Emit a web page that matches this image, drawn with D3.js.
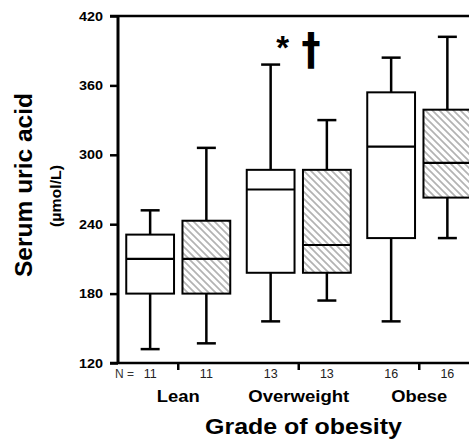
<!DOCTYPE html>
<html>
<head>
<meta charset="utf-8">
<script src="https://cdn.jsdelivr.net/npm/d3@7"></script>
<style>
  body { margin: 0; background: #fff; }
  svg { display: block; font-family: Arial, "Liberation Sans", sans-serif; }
</style>
</head>
<body>
<svg></svg>
<script>
///////////////////////////////////////////
// Data (umol/L)
var groups = ["Lean", "Overweight", "Obese"];
var series = ["open", "hatched"];
var counts = [[11, 11], [13, 13], [16, 16]];

// open boxes
var openMin = [132, 156, 156],
    openQ1  = [180, 198, 228],
    openMed = [210, 270, 307],
    openQ3  = [231, 287, 354],
    openMax = [252, 378, 384];

// hatched boxes
var hatchMin = [137, 174, 228],
    hatchQ1  = [180, 198, 263],
    hatchMed = [210, 222, 293],
    hatchQ3  = [243, 287, 339],
    hatchMax = [306, 330, 402];

var yTicks = [120, 180, 240, 300, 360, 420];

///////////////////////////////////////////
// Layout
var svgWidth = 469, svgHeight = 442;
var svg = d3.select("svg").attr("width", svgWidth).attr("height", svgHeight);

var y = d3.scaleLinear().domain([120, 420]).range([363, 16]);
var x = d3.scaleBand().domain(groups).range([118, 479.5]);
var xs = d3.scaleBand().domain(series).range([-52, 52]).paddingInner(0.15).paddingOuter(0);

var boxes = [];
groups.forEach(function(g, i) {
  boxes.push({g: g, s: "open", n: counts[i][0], min: openMin[i], q1: openQ1[i], med: openMed[i], q3: openQ3[i], max: openMax[i]});
  boxes.push({g: g, s: "hatched", n: counts[i][1], min: hatchMin[i], q1: hatchQ1[i], med: hatchMed[i], q3: hatchQ3[i], max: hatchMax[i]});
});

// text widths of the original (wider face than Arial)
var groupLabelLen = {"Lean": 43, "Overweight": 101, "Obese": 56};

// hatch pattern
var defs = svg.append("defs");
var pat = defs.append("pattern").attr("id", "hatch")
  .attr("patternUnits", "userSpaceOnUse").attr("width", 7).attr("height", 7);
pat.append("rect").attr("width", 7).attr("height", 7).attr("fill", "#fff");
pat.append("path")
  .attr("d", "M-1,-1L8,8M-1,6L1,8M6,-1L8,1")
  .attr("stroke", "#b3b3b3").attr("stroke-width", 1.7);

///////////////////////////////////////////
// Axes
var yAxis = svg.append("g").attr("transform", "translate(118,0)")
  .call(d3.axisLeft(y).tickValues(yTicks).tickSize(8).tickPadding(7).tickFormat(d3.format("d")));
yAxis.select(".domain").remove();
yAxis.selectAll("line").attr("stroke", "#000").attr("stroke-width", 2.5);
yAxis.selectAll("text").attr("font-size", 13).attr("font-weight", "bold").attr("fill", "#000")
  .attr("textLength", 24).attr("lengthAdjust", "spacingAndGlyphs");

svg.append("line").attr("x1", 118).attr("x2", 118).attr("y1", y(420) - 1).attr("y2", y(120) + 1)
  .attr("stroke", "#000").attr("stroke-width", 3);
svg.append("line").attr("x1", 110).attr("x2", svgWidth).attr("y1", y(420)).attr("y2", y(420))
  .attr("stroke", "#000").attr("stroke-width", 2.5);
svg.append("line").attr("x1", 110).attr("x2", svgWidth).attr("y1", y(120)).attr("y2", y(120))
  .attr("stroke", "#000").attr("stroke-width", 2.5);

// ticks between the paired boxes
svg.selectAll(".xtick").data(groups).enter().append("line")
  .attr("x1", function(d) { return x(d) + x.bandwidth() / 2; })
  .attr("x2", function(d) { return x(d) + x.bandwidth() / 2; })
  .attr("y1", y(120)).attr("y2", y(120) + 7)
  .attr("stroke", "#000").attr("stroke-width", 2.5);

///////////////////////////////////////////
// Boxes
function cx(d) { return x(d.g) + x.bandwidth() / 2 + xs(d.s) + xs.bandwidth() / 2; }
var bw = xs.bandwidth(), capW = 19;

var bx = svg.selectAll(".box").data(boxes).enter().append("g").attr("class", "box");
bx.append("line").attr("x1", cx).attr("x2", cx)
  .attr("y1", function(d) { return y(d.max); }).attr("y2", function(d) { return y(d.min); })
  .attr("stroke", "#000").attr("stroke-width", 2.5);
bx.append("line").attr("x1", function(d) { return cx(d) - capW / 2; }).attr("x2", function(d) { return cx(d) + capW / 2; })
  .attr("y1", function(d) { return y(d.max); }).attr("y2", function(d) { return y(d.max); })
  .attr("stroke", "#000").attr("stroke-width", 2.5);
bx.append("line").attr("x1", function(d) { return cx(d) - capW / 2; }).attr("x2", function(d) { return cx(d) + capW / 2; })
  .attr("y1", function(d) { return y(d.min); }).attr("y2", function(d) { return y(d.min); })
  .attr("stroke", "#000").attr("stroke-width", 2.5);
bx.append("rect")
  .attr("x", function(d) { return cx(d) - bw / 2; })
  .attr("y", function(d) { return y(d.q3); })
  .attr("width", bw)
  .attr("height", function(d) { return y(d.q1) - y(d.q3); })
  .attr("fill", function(d) { return d.s == "hatched" ? "url(#hatch)" : "#fff"; })
  .attr("stroke", "#000").attr("stroke-width", 2);
bx.append("line").attr("x1", function(d) { return cx(d) - bw / 2; }).attr("x2", function(d) { return cx(d) + bw / 2; })
  .attr("y1", function(d) { return y(d.med); }).attr("y2", function(d) { return y(d.med); })
  .attr("stroke", "#000").attr("stroke-width", 2.2);

// N row
svg.append("text").attr("x", 115).attr("y", 377.5).attr("font-size", 12).attr("fill", "#333")
  .attr("textLength", 19).attr("lengthAdjust", "spacingAndGlyphs").text("N =");
svg.selectAll(".ncount").data(boxes).enter().append("text")
  .attr("x", cx).attr("y", 377.5).attr("text-anchor", "middle")
  .attr("font-size", 12.5).attr("fill", "#222")
  .text(function(d) { return d.n; });

// group labels
svg.selectAll(".glabel").data(groups).enter().append("text")
  .attr("x", function(d) { return x(d) + x.bandwidth() / 2; }).attr("y", 402)
  .attr("text-anchor", "middle").attr("font-size", 16.5).attr("font-weight", "bold")
  .attr("textLength", function(d) { return groupLabelLen[d]; }).attr("lengthAdjust", "spacingAndGlyphs")
  .text(function(d) { return d; });

// axis titles
svg.append("text").attr("x", 303.5).attr("y", 434).attr("text-anchor", "middle")
  .attr("font-size", 22.5).attr("font-weight", "bold")
  .attr("textLength", 197).attr("lengthAdjust", "spacingAndGlyphs").text("Grade of obesity");
svg.append("text").attr("transform", "translate(32,185) rotate(-90)").attr("text-anchor", "middle")
  .attr("font-size", 24.5).attr("font-weight", "bold")
  .attr("textLength", 184).attr("lengthAdjust", "spacingAndGlyphs").text("Serum uric acid");
svg.append("text").attr("transform", "translate(61,196) rotate(-90)").attr("text-anchor", "middle")
  .attr("font-size", 15).attr("font-weight", "bold")
  .attr("textLength", 62).attr("lengthAdjust", "spacingAndGlyphs").text("(\u00b5mol/L)");

// significance marks over the overweight group
svg.append("text").attr("x", 282.7).attr("y", 59).attr("text-anchor", "middle")
  .attr("font-size", 33).attr("font-weight", "bold").text("*");
svg.append("text").attr("transform", "translate(311,64.5) scale(0.85,1)").attr("text-anchor", "middle")
  .attr("font-family", "DejaVu Sans").attr("font-size", 45).attr("font-weight", "bold").text("\u2020");
</script>
</body>
</html>
